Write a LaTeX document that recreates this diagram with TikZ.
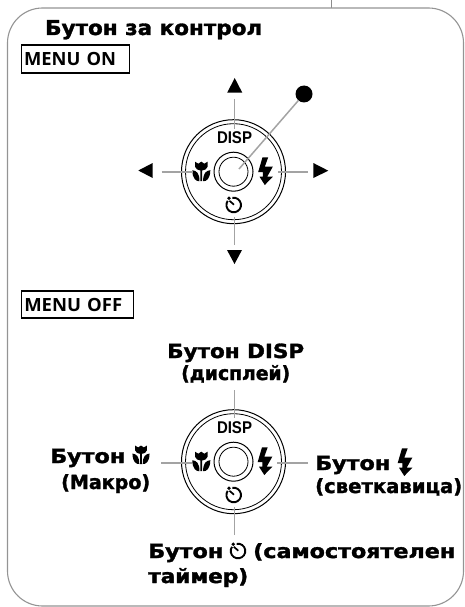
\documentclass[tikz,border=0pt]{standalone}
\usepackage{graphicx}
\usepackage{fontspec}
\setmainfont{DejaVu Sans}
\newfontfamily\heavyfont[FakeBold=1.6]{DejaVu Sans Bold}
\newfontfamily\menufont{Open Sans}
\newfontfamily\dispfont{Liberation Sans}
\newcommand{\fitw}[2]{\resizebox{#1pt}{\height}{#2}}
\tikzset{
  panel/.style={draw=black!42,line width=1.1pt,rounded corners=35pt},
  lead/.style={draw=black!36,line width=1.5pt},
  ring/.style={draw=black,line width=1pt,fill=none},
  tag/.style={draw=black,line width=1.1pt,inner sep=0pt,anchor=west,align=left,font=\menufont\bfseries\fontsize{18.2}{18.2}\selectfont},
  lbl/.style={anchor=base west,inner sep=0pt,font=\heavyfont\fontsize{19.5}{19.5}\selectfont},
  disptext/.style={inner sep=0pt,font=\dispfont\bfseries\fontsize{17}{17}\selectfont},
  pics/tulip/.style={code={
    \fill (-6.3,-10) -- (-3,-8) -- (0,-10) -- (3,-8) -- (6.3,-10) -- (6.3,-5) .. controls (6,-2.5) and (3,-1.5) .. (0.9,-1.2) -- (0.9,9.5) -- (-0.9,9.5) -- (-0.9,-1.2) .. controls (-3,-1.5) and (-6,-2.5) .. (-6.3,-5) -- cycle;
    \fill (-9,-1.5) .. controls (-5,-1) and (-1.8,1) .. (-1.8,9.5) .. controls (-5,10) and (-9,7) .. (-9,-1.5) -- cycle;
    \fill (9,-1.5) .. controls (5,-1) and (1.8,1) .. (1.8,9.5) .. controls (5,10) and (9,7) .. (9,-1.5) -- cycle;
  }},
  pics/bolt/.style={code={
    \fill (-3,-13.7) -- (2.7,-13.7) -- (-0.7,-4.3) -- (7.3,-4.3) -- (1.7,5.7) -- (7.3,5.7) -- (-0.7,14) -- (-6,5.7) -- (-2.7,5.7) -- (-2.7,1) -- (-7.3,1) -- cycle;
  }},
  pics/timer/.style={code={
    \begin{scope}[yscale=-1]
    \draw[line width=1.9pt] (100:7.3) arc[start angle=100,end angle=-215,radius=7.3];
    \draw[line width=1.7pt] (0.3,0.3) -- (135:6);
    \fill (125:8.2) circle[radius=1.9];
    \end{scope}
  }},
}
\begin{document}
\begin{tikzpicture}[x=1pt,y=-1pt]
\useasboundingbox (0,0) rectangle (464,607);
\coordinate (feedA) at (331,0);
\coordinate (feedB) at (331,8);
\draw[draw=black!45,line width=0.8pt] (feedA) -- (feedB);
\draw[panel] (7.5,8) rectangle (463.5,606);
\node[lbl,font=\heavyfont\fontsize{20.5}{20.5}\selectfont] (title) at (45,35) {\fitw{217}{Бутон за контрол}};
\node[tag,minimum width=108pt,minimum height=28pt,text width=103pt] (menuon) at (21,59) {\hspace*{0pt}\fitw{92}{MENU ON}};
\node[tag,minimum width=112pt,minimum height=27pt,text width=106pt] (menuoff) at (20.7,304.5) {\hspace*{0pt}\fitw{98}{MENU OFF}};
% upper dial
\coordinate (c1) at (233.5,171.7);
\draw[ring] (c1) circle[radius=52];
\draw[ring,line width=0.8pt] (c1) circle[radius=48];
\draw[ring] (c1) circle[radius=19.5];
\draw[ring,line width=0.8pt] (c1) circle[radius=14.5];
\node[disptext] (disp1) at (234.5,137.7) {\fitw{35}{DISP}};
\pic at (201.3,171.7) {tulip};
\pic at (265.5,171) {bolt};
\pic at (233.7,205) {timer};
\coordinate (u1) at (234.7,99); \coordinate (u2) at (234.7,129);
\coordinate (l1) at (161.5,172); \coordinate (l2) at (193,172);
\coordinate (r1) at (308,172); \coordinate (r2) at (278,172);
\coordinate (d1) at (234.5,245); \coordinate (d2) at (234.5,217);
\node[circle,fill=black,minimum size=17pt,inner sep=0pt] (dot) at (304,94) {};
\coordinate (centre) at (239,169);
\draw[lead] (u1) -- (u2);
\draw[lead] (l1) -- (l2);
\draw[lead] (r1) -- (r2);
\draw[lead] (d1) -- (d2);
\draw[lead] (dot) -- (centre);
\fill (234.7,78) -- (242.3,92.7) -- (227.2,92.7) -- cycle;
\fill (138.3,170.5) -- (152.7,163) -- (152.7,178) -- cycle;
\fill (328.3,170.7) -- (313.3,163) -- (313.3,178) -- cycle;
\fill (234.5,264) -- (242,250) -- (227,250) -- cycle;
% lower dial
\coordinate (c2) at (233.5,461.7);
\draw[ring] (c2) circle[radius=52];
\draw[ring,line width=0.8pt] (c2) circle[radius=48];
\draw[ring] (c2) circle[radius=19.5];
\draw[ring,line width=0.8pt] (c2) circle[radius=14.5];
\node[disptext] (disp2) at (234.5,428) {\fitw{35}{DISP}};
\pic at (201.3,461.7) {tulip};
\pic at (265,461) {bolt};
\pic at (233.7,495) {timer};
\coordinate (lu1) at (234.5,390); \coordinate (lu2) at (234.5,418);
\coordinate (ll1) at (161,463); \coordinate (ll2) at (192,463);
\coordinate (lr1) at (308,463); \coordinate (lr2) at (277,463);
\coordinate (ld1) at (234.5,535); \coordinate (ld2) at (234.5,507);
\draw[lead] (lu1) -- (lu2);
\draw[lead] (ll1) -- (ll2);
\draw[lead] (lr1) -- (lr2);
\draw[lead] (ld1) -- (ld2);
% labels
\node[lbl] (t1) at (167,358) {\fitw{137}{Бутон DISP}};
\node[lbl] (t2) at (181,380) {\fitw{109}{(дисплей)}};
\node[lbl] (t3) at (50,463) {\fitw{75}{Бутон}};
\pic[scale=0.95] at (141,455) {tulip};
\node[lbl] (t4) at (61,489) {\fitw{89}{(Макро)}};
\node[lbl] (t5) at (315,470) {\fitw{75}{Бутон}};
\pic[scale=1] at (405,462) {bolt};
\node[lbl] (t6) at (315,493) {\fitw{147}{(светкавица)}};
\node[lbl] (t7) at (148,558) {\fitw{75}{Бутон}};
\pic[scale=1] at (238,551) {timer};
\node[lbl] (t8) at (253,558) {\fitw{202}{(самостоятелен}};
\node[lbl] (t9) at (148,583) {\fitw{100}{таймер)}};
\end{tikzpicture}
\end{document}
